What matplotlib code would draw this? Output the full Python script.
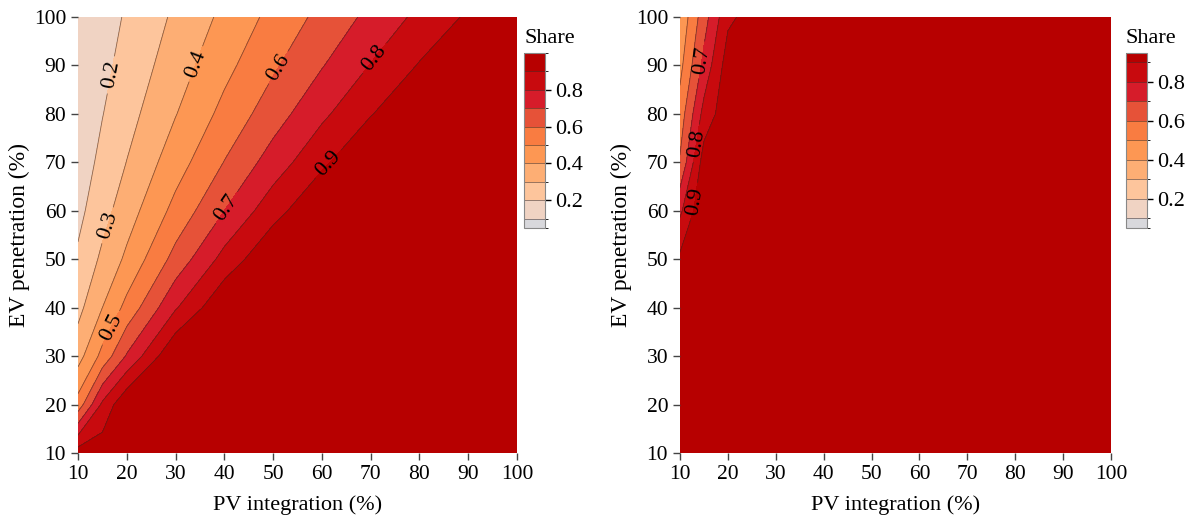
import matplotlib
matplotlib.use("Agg")
import matplotlib.pyplot as plt
from matplotlib.colors import ListedColormap, BoundaryNorm
import numpy as np

plt.rcParams["font.family"] = ["Liberation Serif", "DejaVu Serif"]

# grid (PV integration %, EV penetration %)
pv = [10, 15, 20, 30, 40, 50, 60, 70, 80, 90, 100]
ev = [10, 20, 30, 40, 50, 60, 70, 80, 90, 100]

# share values, one row per EV level (10 -> 100)
share_left = [
    [0.95, 0.96, 0.97, 0.98, 0.98, 0.98, 0.98, 0.98, 0.98, 0.98, 0.98],
    [0.54, 0.82, 0.99, 0.99, 0.99, 0.99, 0.99, 0.99, 0.99, 0.99, 0.99],
    [0.36, 0.53, 0.71, 1.0, 0.99, 0.99, 0.99, 0.99, 0.99, 0.99, 0.99],
    [0.27, 0.40, 0.53, 0.79, 0.99, 0.99, 0.99, 0.99, 0.99, 0.99, 0.99],
    [0.215, 0.32, 0.42, 0.635, 0.835, 0.99, 0.99, 0.99, 0.99, 0.99, 0.99],
    [0.173, 0.264, 0.353, 0.531, 0.70, 0.862, 0.99, 0.99, 0.99, 0.99, 0.99],
    [0.147, 0.225, 0.302, 0.455, 0.603, 0.745, 0.881, 0.99, 0.99, 0.99, 0.99],
    [0.14, 0.197, 0.264, 0.396, 0.529, 0.654, 0.779, 0.895, 0.98, 0.98, 0.98],
    [0.125, 0.175, 0.234, 0.352, 0.471, 0.585, 0.694, 0.804, 0.907, 0.95, 0.96],
    [0.12, 0.157, 0.211, 0.317, 0.423, 0.529, 0.628, 0.726, 0.824, 0.915, 0.94],
]
share_right = [
    [0.98, 0.99, 0.99, 0.99, 0.99, 0.99, 0.99, 0.99, 0.99, 0.99, 0.99],
    [0.97, 0.98, 0.99, 0.99, 0.99, 0.99, 0.99, 0.99, 0.99, 0.99, 0.99],
    [0.97, 0.98, 0.99, 0.99, 0.99, 0.99, 0.99, 0.99, 0.99, 0.99, 0.99],
    [0.95, 0.98, 0.99, 0.99, 0.99, 0.99, 0.99, 0.99, 0.99, 0.99, 0.99],
    [0.92, 0.98, 0.99, 0.99, 0.99, 0.99, 0.99, 0.99, 0.99, 0.99, 0.99],
    [0.78, 0.99, 0.99, 0.99, 0.99, 0.99, 0.99, 0.99, 0.99, 0.99, 0.99],
    [0.61, 0.95, 0.98, 0.99, 0.99, 0.99, 0.99, 0.99, 0.99, 0.99, 0.99],
    [0.543, 0.835, 0.97, 0.99, 0.99, 0.99, 0.99, 0.99, 0.99, 0.99, 0.99],
    [0.47, 0.73, 0.95, 0.99, 0.99, 0.99, 0.99, 0.99, 0.99, 0.99, 0.99],
    [0.42, 0.656, 0.88, 0.99, 0.99, 0.99, 0.99, 0.99, 0.99, 0.99, 0.99],
]

levels = [0.05, 0.1, 0.2, 0.3, 0.4, 0.5, 0.6, 0.7, 0.8, 0.9, 1.0]
colors = ["#d8d8dc", "#f0d3c3", "#fdc59c", "#fdae74", "#fd9753", "#f97c41",
          "#e65238", "#d61c2a", "#c80a0e", "#b70000"]
cmap = ListedColormap(colors)
norm = BoundaryNorm(levels, cmap.N)

# where the inline contour labels sit
label_pos_left = [(17, 88), (16, 57), (35, 90), (16.5, 36), (52, 89), (40, 61), (71.5, 91), (60.5, 70.5)]
label_pos_right = [(15.2, 91), (13.1, 74), (12.7, 62)]

fig = plt.figure(figsize=(11.85, 5.22), dpi=100)
ax_pos = [[0.0658, 0.1322, 0.3705, 0.8352], [0.5738, 0.1322, 0.3638, 0.8352]]
cb_pos = [[0.4425, 0.5632, 0.0175, 0.3358], [0.9502, 0.5632, 0.0175, 0.3358]]

X, Y = np.meshgrid(pv, ev)
for share, apos, cpos, lpos in [(share_left, ax_pos[0], cb_pos[0], label_pos_left),
                                (share_right, ax_pos[1], cb_pos[1], label_pos_right)]:
    ax = fig.add_axes(apos)
    Z = np.array(share)
    cf = ax.contourf(X, Y, Z, levels=levels, cmap=cmap, norm=norm)
    cs = ax.contour(X, Y, Z, levels=levels[1:-1], colors=[(0.23, 0.15, 0.13, 0.6)], linewidths=0.6)
    ax.clabel(cs, inline=True, fontsize=16, fmt="%.1f", colors="black", manual=lpos)
    ax.set_xlim(10, 100)
    ax.set_ylim(10, 100)
    ax.set_xticks(np.arange(10, 101, 10))
    ax.set_yticks(np.arange(10, 101, 10))
    ax.tick_params(labelsize=15.5, length=5, width=1, color="#444444", direction="out")
    for s in ax.spines.values():
        s.set_visible(False)
    ax.set_xlabel("PV integration (%)", fontsize=16, labelpad=8)
    ax.set_ylabel("EV penetration (%)", fontsize=17, labelpad=3)

    cax = fig.add_axes(cpos)
    cb = fig.colorbar(cf, cax=cax, spacing="proportional", ticks=[0.2, 0.4, 0.6, 0.8])
    cb.add_lines(cs)
    cb.ax.set_ylim(0.05, 0.95)
    cb.outline.set_edgecolor("#888888")
    cb.outline.set_linewidth(0.8)
    cb.ax.tick_params(labelsize=16, length=4, width=1)
    cb.ax.set_title("Share", fontsize=16, pad=7, loc="left")

plt.savefig("out.png", dpi=100)
